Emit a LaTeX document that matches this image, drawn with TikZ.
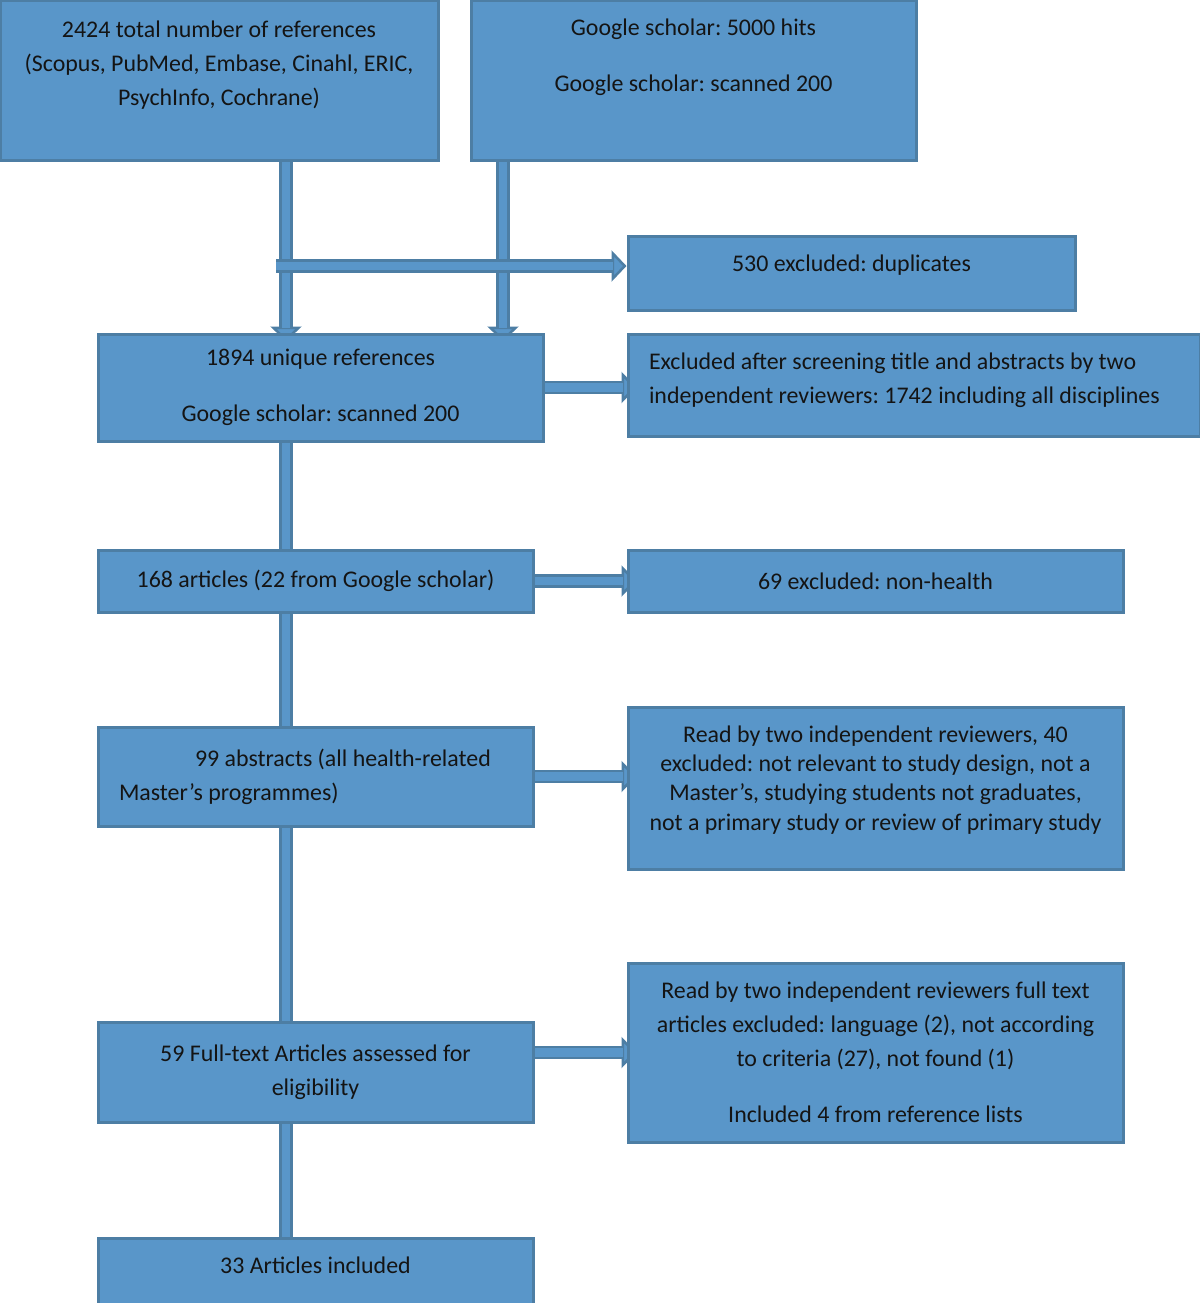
\documentclass[tikz,border=0pt]{standalone}
\usepackage{fontspec}
\setmainfont{Carlito}
\frenchspacing
\usetikzlibrary{arrows.meta,backgrounds}
\definecolor{boxblue}{RGB}{89,150,201}
\definecolor{edgeblue}{RGB}{77,126,164}
\definecolor{inkblack}{RGB}{20,20,20}
\tikzset{
  stage/.style={draw=edgeblue, fill=boxblue, line width=0.06cm, inner sep=0pt,
    align=center, text=inkblack, font=\fontsize{13.6}{19.3}\selectfont},
  leftstage/.style={stage, align=flush left, inner xsep=0.42cm},
  flow/.style={draw=edgeblue, line width=0.27cm,
    -{Triangle[length=0.3cm,width=0.62cm,line width=0.05cm,fill=boxblue]},
    postaction={draw=boxblue, line width=0.17cm, -, shorten >=0.28cm}},
  link/.style={draw=edgeblue, line width=0.27cm,
    postaction={draw=boxblue, line width=0.17cm}},
}
\begin{document}
\begin{tikzpicture}
\useasboundingbox (0,0) rectangle (24,-26.06);
\coordinate (spine) at (5.72,0);
\coordinate (gsdrop) at (10.06,0);
\coordinate (split) at (5.52,-5.32);
% sources
\node[stage, minimum width=8.76cm, minimum height=3.2cm] (refs) at (4.38,-1.6)
  {2424 total number of references\\(Scopus, PubMed, Embase, Cinahl, ERIC,\\PsychInfo, Cochrane)\\~};
\node[stage, minimum width=8.9cm, minimum height=3.2cm] (gs) at (13.87,-1.6)
  {Google scholar: 5000 hits\\[0.44cm]Google scholar: scanned 200\\[0.32cm]~};
% left column
\node[stage, minimum width=8.9cm, minimum height=2.14cm] (uniq) at (6.41,-7.75)
  {1894 unique references\\[0.44cm]Google scholar: scanned 200};
\node[stage, minimum width=8.7cm, minimum height=1.24cm] (n168) at (6.31,-11.62)
  {168 articles (22 from Google scholar)};
\node[leftstage, text width=7.86cm, minimum height=1.98cm] (n99) at (6.31,-15.53)
  {\hspace*{1.52cm}99 abstracts (all health-related\\Master’s programmes)};
\node[stage, minimum width=8.7cm, minimum height=2.0cm] (b59) at (6.31,-21.44)
  {59 Full-text Articles assessed for\\eligibility};
\node[stage, minimum width=8.7cm, minimum height=1.36cm] (b33) at (6.31,-25.44)
  {33 Articles included\\[-0.4cm]~};
% right column
\node[stage, minimum width=8.94cm, minimum height=1.48cm] (dup) at (17.03,-5.46)
  {530 excluded: duplicates\\[-0.28cm]~};
\node[leftstage, text width=10.6cm, minimum height=2.04cm] (screen) at (18.28,-7.70)
  {Excluded after screening title and abstracts by two\\independent reviewers: 1742 including all disciplines\\[-0.4cm]~};
\node[stage, minimum width=9.9cm, minimum height=1.24cm] (n69) at (17.51,-11.62)
  {69 excluded: non-health};
\node[stage, minimum width=9.9cm, minimum height=3.24cm, font=\fontsize{13.6}{16.7}\selectfont] (read) at (17.51,-15.76)
  {Read by two independent reviewers, 40\\excluded: not relevant to study design, not a\\Master’s, studying students not graduates,\\not a primary study or review of primary study\\[-0.18cm]~};
\node[stage, minimum width=9.9cm, minimum height=3.58cm] (ft) at (17.51,-21.05)
  {Read by two independent reviewers full text\\articles excluded: language (2), not according\\to criteria (27), not found (1)\\[0.44cm]Included 4 from reference lists};
% connectors
\begin{scope}[on background layer]
\draw[flow] (refs.south -| spine) -- ([yshift=-0.18cm]uniq.north -| spine);
\draw[flow] (gs.south -| gsdrop) -- ([yshift=-0.18cm]uniq.north -| gsdrop);
\draw[flow] (split) -- (split -| dup.west);
\draw[flow] (uniq.east) -- ([xshift=0.2cm]uniq.east -| screen.west);
\draw[link] (uniq.south -| spine) -- (n168.north -| spine);
\draw[flow] (n168.east) -- ([xshift=0.2cm]n69.west);
\draw[link] (n168.south -| spine) -- (n99.north -| spine);
\draw[flow] (n99.east) -- ([xshift=0.2cm]n99.east -| read.west);
\draw[link] (n99.south -| spine) -- (b59.north -| spine);
\draw[flow] (ft.west -| b59.east) -- ([xshift=0.2cm]ft.west);
\draw[link] (b59.south -| spine) -- (b33.north -| spine);
\end{scope}
\end{tikzpicture}
\end{document}
